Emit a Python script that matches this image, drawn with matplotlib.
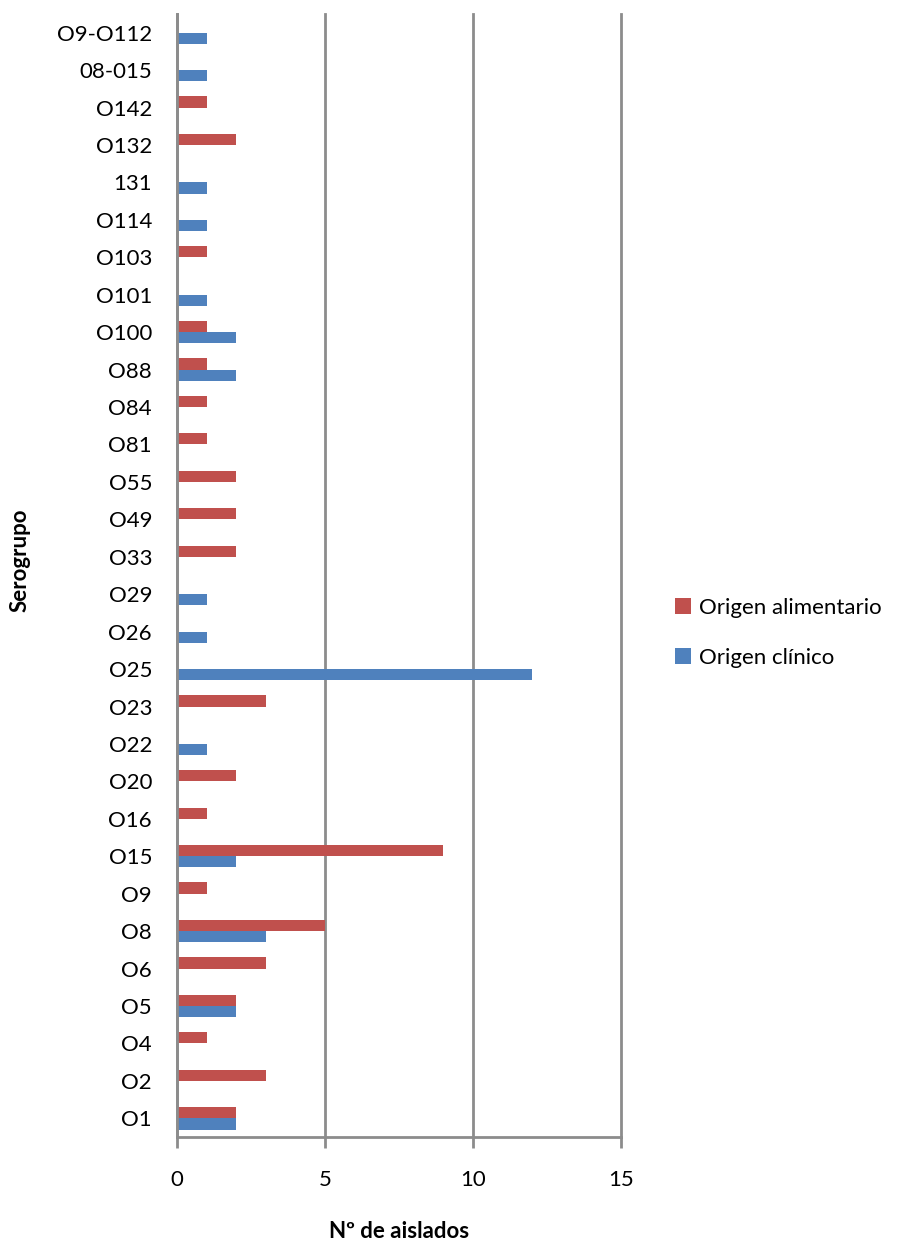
import matplotlib
matplotlib.use("Agg")
import matplotlib.pyplot as plt
import numpy as np

plt.rcParams['font.family'] = ['Lato', 'DejaVu Sans']

serogroups = ["O1", "O2", "O4", "O5", "O6", "O8", "O9", "O15", "O16", "O20",
              "O22", "O23", "O25", "O26", "O29", "O33", "O49", "O55", "O81", "O84",
              "O88", "O100", "O101", "O103", "O114", "131", "O132", "O142", "08-015", "O9-O112"]
alimentario = [2, 3, 1, 2, 3, 5, 1, 9, 1, 2,
               0, 3, 0, 0, 0, 2, 2, 2, 1, 1,
               1, 1, 0, 1, 0, 0, 2, 1, 0, 0]
clinico = [2, 0, 0, 2, 0, 3, 0, 2, 0, 0,
           1, 0, 12, 1, 1, 0, 0, 0, 0, 0,
           2, 2, 1, 0, 1, 1, 0, 0, 1, 1]
x_ticks = [0, 5, 10, 15]

red = "#C0504D"
blue = "#4F81BD"
grey = "#8C8C8C"
W, H = 899, 1243

fig = plt.figure(figsize=(W / 100, H / 100), dpi=100)
ax = fig.add_axes([177 / W, 1 - 1137 / H, (621 - 177) / W, (1137 - 14) / H])

y = np.arange(len(serogroups))
h = 0.3
ax.barh(y + h / 2, alimentario, height=h, color=red, label="Origen alimentario", zorder=3)
ax.barh(y - h / 2, clinico, height=h, color=blue, label="Origen clínico", zorder=3)

ax.set_xlim(0, 15)
ax.set_ylim(-0.5, len(serogroups) - 0.5)
ax.set_xticks(x_ticks)
ax.set_xticklabels([str(t) for t in x_ticks])
ax.set_yticks(y)
ax.set_yticklabels(serogroups)

ax.grid(axis="x", color=grey, linewidth=2, zorder=0)
for gl in ax.get_xgridlines():
    gl.set_clip_on(False)
for s in ["top", "right"]:
    ax.spines[s].set_visible(False)
for s in ["left", "bottom"]:
    ax.spines[s].set_color(grey)
    ax.spines[s].set_linewidth(2)
    ax.spines[s].set_zorder(4)

ax.tick_params(axis="x", length=8, width=2, color=grey, pad=16, labelsize=16)
ax.tick_params(axis="y", length=0, pad=18, labelsize=16)

fig.text(399 / W, 1 - 1232 / H, "Nº de aislados", fontsize=16, fontweight="bold",
         ha="center", va="center")
fig.text(20 / W, 1 - 560 / H, "Serogrupo", fontsize=16, fontweight="bold",
         ha="center", va="center", rotation=90)

ax.legend(loc="upper left", bbox_to_anchor=(675 / W, 1 - 598 / H),
          bbox_transform=fig.transFigure, frameon=False, borderpad=0,
          borderaxespad=0, fontsize=16, handlelength=0.7, handleheight=0.7,
          handletextpad=0.4, labelspacing=1.35)

fig.savefig("out.png", dpi=100, facecolor="white")
